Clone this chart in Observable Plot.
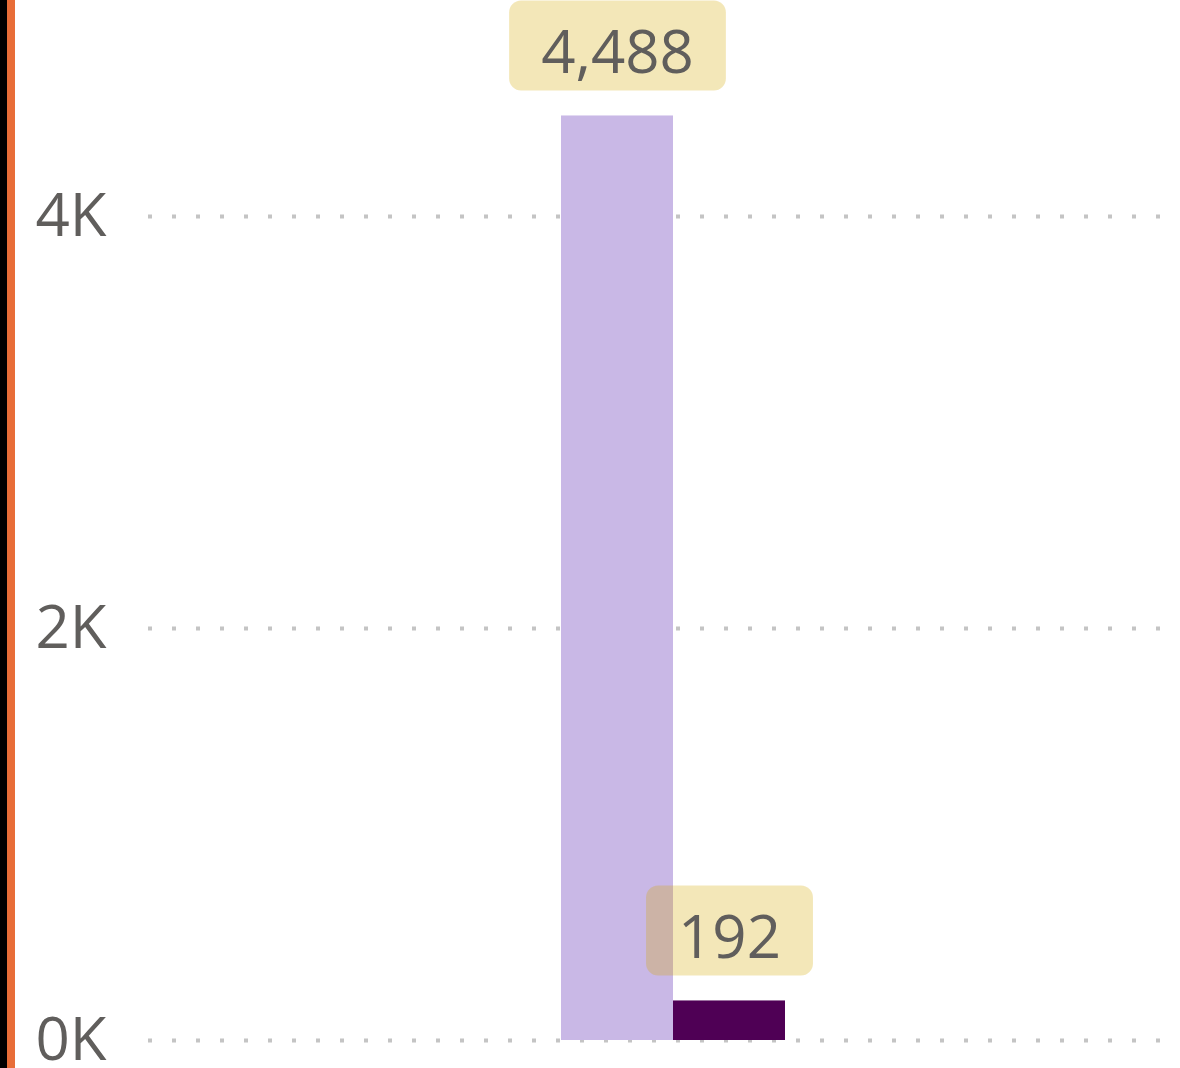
<!DOCTYPE html>
<html>
<head>
<meta charset="utf-8">
<script src="https://cdn.jsdelivr.net/npm/d3@7"></script>
<script src="https://cdn.jsdelivr.net/npm/@observablehq/plot@0.6"></script>
<style>
  html, body { margin: 0; padding: 0; background: #fff; }
  #wrap { position: relative; width: 1180px; height: 1068px; overflow: hidden; }
  #strip-black { position: absolute; left: 0; top: 0; width: 7px; height: 1068px; background: #000; }
  #strip-orange { position: absolute; left: 7px; top: 0; width: 8px; height: 1068px; background: #E86D38; }
</style>
</head>
<body>
<div id="wrap"></div>
<script>
const categories = ["Series A", "Series B"];
const values = [4488, 192];
const barColors = ["#C9B8E6", "#4F0055"];
const yTicks = [0, 2000, 4000];
const yTickLabels = ["0K", "2K", "4K"];

const data = categories.map((c, i) => ({cat: c, value: values[i]}));
const fmt = d3.format(",");

const plot = Plot.plot({
  width: 1180,
  height: 1068,
  marginLeft: 148,
  marginRight: 0,
  marginTop: 0,
  marginBottom: 28,
  style: {fontFamily: "'Open Sans', sans-serif", fontSize: "60px", color: "#605E5C", background: "transparent", overflow: "visible"},
  x: {domain: categories, range: [561, 785], padding: 0, axis: null},
  y: {domain: [0, 4000], range: [1040, 216]},
  color: {domain: categories, range: barColors},
  marks: [
    Plot.gridY(yTicks, {stroke: "#C4C4C4", strokeOpacity: 1, strokeWidth: 4, strokeDasharray: "4 20"}),
    Plot.axisY(yTicks, {tickSize: 0, tickPadding: 42, fontSize: 60, fill: "#605E5C",
      tickFormat: d => yTickLabels[yTicks.indexOf(d)], label: null}),
    Plot.barY(data, {x: "cat", y: "value", fill: "cat", clip: false}),
    Plot.text(data, {x: "cat", y: "value", text: d => fmt(d.value), lineAnchor: "bottom", dy: -43,
      fontSize: 60, fill: "#605E5C", fontFamily: "'Open Sans', sans-serif"})
  ]
});

const wrap = document.getElementById("wrap");
wrap.appendChild(plot);
const sb = document.createElement("div"); sb.id = "strip-black"; wrap.appendChild(sb);
const so = document.createElement("div"); so.id = "strip-orange"; wrap.appendChild(so);

// rounded label boxes behind the value labels
const yScale = plot.scale("y");
const textGroup = plot.querySelector('g[aria-label="text"]');
if (textGroup) {
  const pr = plot.getBoundingClientRect();
  const texts = Array.from(textGroup.querySelectorAll("text"));
  texts.forEach((t, i) => {
    const br = t.getBoundingClientRect();
    const barTop = yScale.apply(values[i]);
    const r = document.createElementNS("http://www.w3.org/2000/svg", "rect");
    r.setAttribute("x", br.left - pr.left - 32);
    r.setAttribute("width", br.width + 64);
    r.setAttribute("y", barTop - 115);
    r.setAttribute("height", 90);
    r.setAttribute("rx", 12);
    r.setAttribute("fill", "#D4A900");
    r.setAttribute("fill-opacity", 0.28);
    plot.insertBefore(r, textGroup);
  });
}
</script>
</body>
</html>
